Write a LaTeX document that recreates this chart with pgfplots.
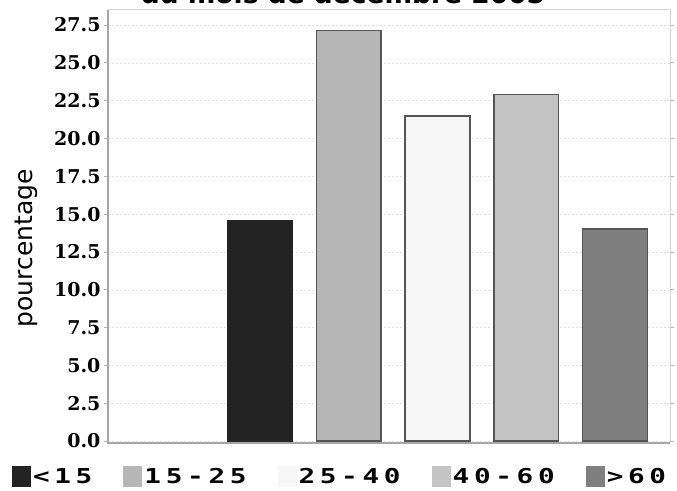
\documentclass[border=0pt]{standalone}
\usepackage{pgfplots}
\pgfplotsset{compat=1.18}
\usepackage{fontspec}
\setmainfont{DejaVu Sans}
\newfontfamily\tickfont{DejaVu Serif}
\newfontfamily\legfont[LetterSpace=17]{DejaVu Sans Mono}

\definecolor{cA}{HTML}{232323}
\definecolor{cB}{HTML}{B6B6B6}
\definecolor{cC}{HTML}{F6F6F6}
\definecolor{cD}{HTML}{C4C4C4}
\definecolor{cE}{HTML}{7F7F7F}
\definecolor{edge}{HTML}{555555}

\newcommand{\leg}[1]{\scalebox{1.35}[1]{\legfont\bfseries #1}}

\begin{document}
\begin{tikzpicture}
\begin{axis}[
    scale only axis,
    width=562pt, height=433pt,
    xmin=-0.713, xmax=5.62,
    ymin=-0.13, ymax=28.49,
    clip=false,
    xtick=\empty,
    ytick={0,2.5,5,7.5,10,12.5,15,17.5,20,22.5,25,27.5},
    yticklabel style={
        /pgf/number format/.cd, fixed, fixed zerofill, precision=1, assume math mode=true,
        /tikz/.cd, font=\tickfont\bfseries\fontsize{19}{19}\selectfont},
    tick align=outside,
    major tick length=4pt,
    ytick style={gray!60, line width=0.8pt},
    ymajorgrids,
    grid style={black!12, dash pattern=on 2pt off 2pt},
    axis line style={draw=none},
    ylabel={pourcentage},
    ylabel style={at={(axis description cs:-0.146,0.45)}, anchor=center,
        font=\fontsize{25}{25}\selectfont},
    legend columns=5,
    legend style={draw=none, fill=none, at={(axis description cs:0.413,-0.0785)},
        anchor=center, font=\fontsize{20.5}{20.5}\selectfont,
        /tikz/every even column/.append style={column sep=29pt}},
    legend image code/.code={\path[#1,draw=none] (0pt,-10.5pt) rectangle (19pt,10.5pt);},
]
\addplot[ybar, bar shift=0pt, bar width=0.73, fill=cA, draw=black!85, line width=1.5pt] coordinates {(1,14.55)};
\addplot[ybar, bar shift=0pt, bar width=0.73, fill=cB, draw=edge, line width=1.5pt] coordinates {(2,27.15)};
\addplot[ybar, bar shift=0pt, bar width=0.73, fill=cC, draw=edge, line width=1.5pt] coordinates {(3,21.5)};
\addplot[ybar, bar shift=0pt, bar width=0.73, fill=cD, draw=edge, line width=1.5pt] coordinates {(4,22.9)};
\addplot[ybar, bar shift=0pt, bar width=0.73, fill=cE, draw=edge, line width=1.5pt] coordinates {(5,14.0)};
\legend{\leg{<15}, \leg{15-25}, \leg{25-40}, \leg{40-60}, \leg{>60}}
\draw[gray!35, line width=1pt] (rel axis cs:0,1) -- (rel axis cs:1,1) -- (rel axis cs:1,0);
\draw[gray!70, line width=1.5pt] (rel axis cs:0,1) -- (rel axis cs:0,0) -- (rel axis cs:1,0);
\end{axis}
\node[font=\bfseries\fontsize{26.5}{26.5}\selectfont, anchor=base] at (235pt,439pt) {du mois de décembre 2005};
\pgfresetboundingbox
\useasboundingbox (-108pt,-47pt) rectangle (569pt,443pt);
\end{tikzpicture}
\end{document}
